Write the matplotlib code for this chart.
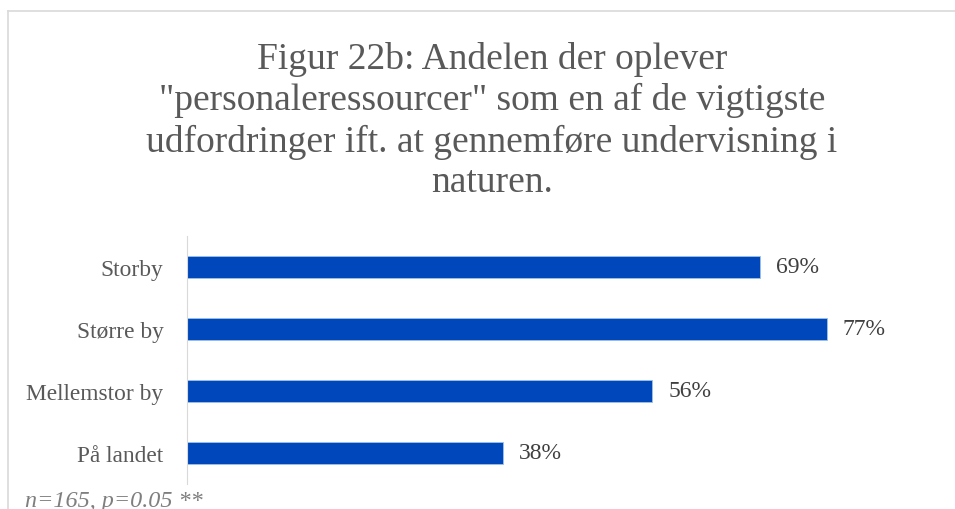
import matplotlib.pyplot as plt
from matplotlib.lines import Line2D

categories = ["Storby", "Større by", "Mellemstor by", "På landet"]
values = [69, 77, 56, 38]
labels = ["69%", "77%", "56%", "38%"]

title = ('Figur 22b: Andelen der oplever\n"personaleressourcer" som en af de vigtigste\n'
         'udfordringer ift. at gennemføre undervisning i\nnaturen.')
note = "n=165, p=0.05 **"

plt.rcParams['font.family'] = ['Liberation Serif', 'DejaVu Serif']

fig = plt.figure(figsize=(9.55, 5.1), dpi=100)
ax = fig.add_axes([187 / 955, 1 - 485 / 510, 748 / 955, 248 / 510])

ypos = list(range(len(categories)))
ax.barh(ypos, values, height=0.36, color="#0047BB", edgecolor="#9DC3E6", linewidth=0.6)
for y, v, lab in zip(ypos, values, labels):
    ax.text(v + 1.9, y, lab, va="center", ha="left", fontsize=17, color="#404040")

ax.set_yticks(ypos)
ax.set_yticklabels(categories, fontsize=16.8, color="#595959")
ax.set_ylim(3.5, -0.5)
ax.set_xlim(0, 90)
ax.set_xticks([])
for s in ["top", "right", "bottom"]:
    ax.spines[s].set_visible(False)
ax.spines["left"].set_color("#D9D9D9")
ax.tick_params(axis="y", length=0, pad=17)

fig.text(492 / 955, 1 - 42 / 510, title, ha="center", va="top", fontsize=27,
         color="#595959", linespacing=1.23)
fig.text(25 / 955, 1 - 502 / 510, note, ha="left", va="center", fontsize=17.4,
         color="#7F7F7F", style="italic")

# chart frame
fig.add_artist(Line2D([8 / 955, 1], [1 - 12 / 510, 1 - 12 / 510], color="#D9D9D9", lw=1.2))
fig.add_artist(Line2D([8 / 955, 8 / 955], [0, 1 - 12 / 510], color="#D9D9D9", lw=1.2))

fig.savefig("out.png", dpi=100)
